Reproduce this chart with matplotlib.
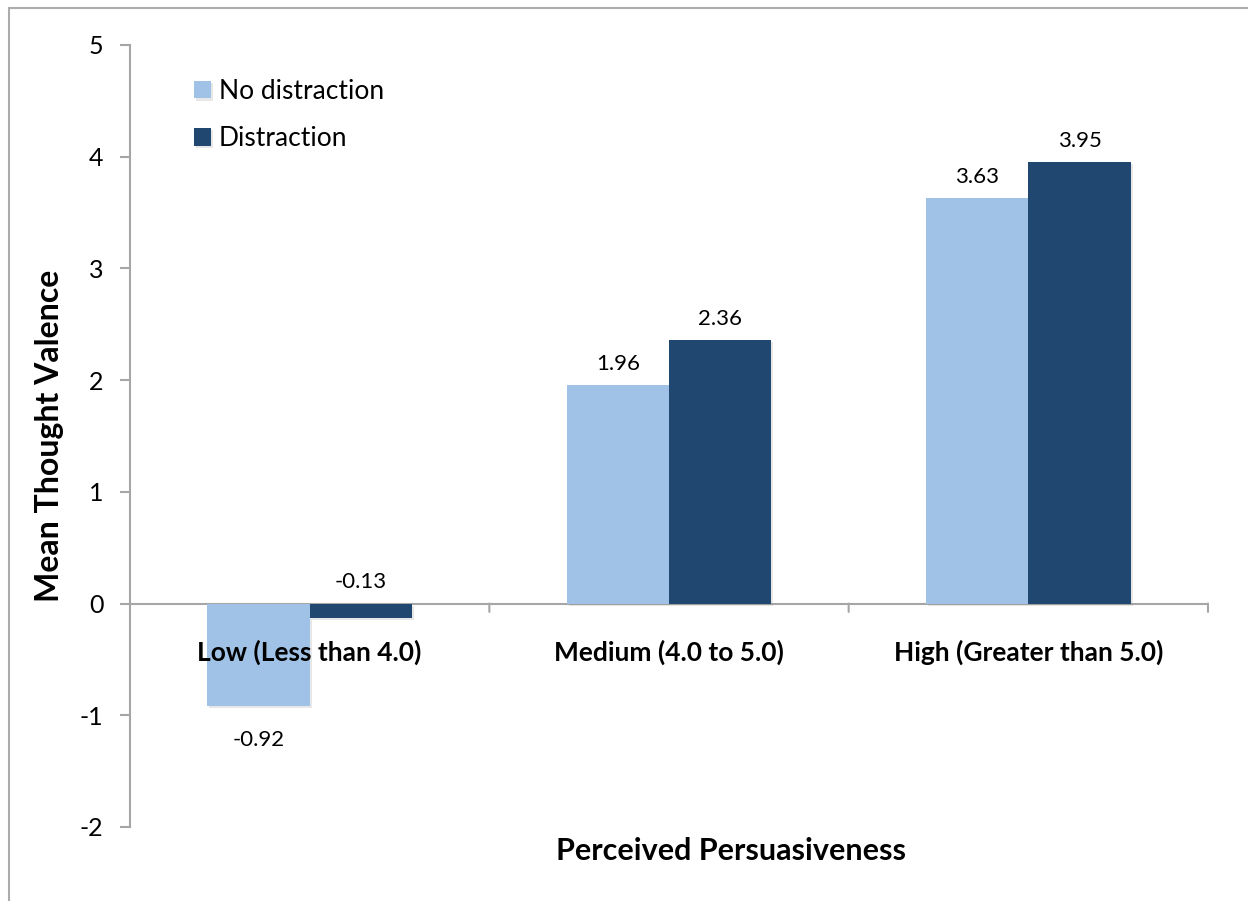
import matplotlib.pyplot as plt
import matplotlib.patheffects as pe
from matplotlib.patches import Rectangle
import numpy as np

categories = ['Low (Less than 4.0)', 'Medium (4.0 to 5.0)', 'High (Greater than 5.0)']
no_distraction = [-0.92, 1.96, 3.63]
distraction = [-0.13, 2.36, 3.95]
series_names = ['No distraction', 'Distraction']
yticks = [-2, -1, 0, 1, 2, 3, 4, 5]

light = '#A0C2E6'
dark = '#1F4770'
axis_gray = '#A6A6A6'

plt.rcParams['font.family'] = ['Lato', 'DejaVu Sans']

fig = plt.figure(figsize=(12.48, 9.01), dpi=100)
ax = fig.add_axes([130 / 1248, 1 - 827 / 901, 1078 / 1248, 782 / 901])

# outer chart frame (only left and top edges fall inside the image)
fig.patches.append(Rectangle((9 / 1248, -0.5), 2, 0.5 + (1 - 8 / 901),
                             transform=fig.transFigure, fill=False,
                             edgecolor='#ACACAC', linewidth=1.5))

x = np.arange(len(categories))
w = 0.285
shadow = [pe.SimplePatchShadow(offset=(1.5, -1.5), shadow_rgbFace='#888888', alpha=0.2), pe.Normal()]
b1 = ax.bar(x - w / 2, no_distraction, w, color=light, label=series_names[0], zorder=3)
b2 = ax.bar(x + w / 2, distraction, w, color=dark, label=series_names[1], zorder=3)
for bars in (b1, b2):
    for b in bars:
        b.set_path_effects(shadow)

# value labels
for bars, vals in ((b1, no_distraction), (b2, distraction)):
    for b, v in zip(bars, vals):
        cx = b.get_x() + b.get_width() / 2
        if v < -0.5:
            ax.annotate(f'{v:.2f}', (cx, v), xytext=(0, -17), textcoords='offset points',
                        ha='center', va='top', fontsize=16)
        elif v < 0:
            ax.annotate(f'{v:.2f}', (cx, 0), xytext=(0, 8), textcoords='offset points',
                        ha='center', va='bottom', fontsize=16)
        else:
            ax.annotate(f'{v:.2f}', (cx, v), xytext=(0, 8), textcoords='offset points',
                        ha='center', va='bottom', fontsize=16)

# category labels sit just below the zero line
for i, c in enumerate(categories):
    ax.annotate(c, (i, 0), xytext=(0, -26), textcoords='offset points',
                ha='center', va='top', fontsize=19, fontweight='bold')

ax.set_xlim(-0.5, 2.5)
ax.set_ylim(-2, 5)
ax.set_yticks(yticks)
ax.set_yticklabels([str(t) for t in yticks], fontsize=18)
ax.set_xticks([])

for s in ['top', 'right', 'bottom']:
    ax.spines[s].set_visible(False)
ax.spines['left'].set_color(axis_gray)
ax.spines['left'].set_linewidth(1.5)
ax.tick_params(axis='y', direction='out', length=7, width=1.5, color=axis_gray, pad=12)

# horizontal axis at zero with downward ticks between groups
ax.axhline(0, color=axis_gray, linewidth=1.5, zorder=2)
for t in [0.5, 1.5, 2.5]:
    ax.annotate('', (t, 0), xytext=(0, -6), textcoords='offset points',
                arrowprops=dict(arrowstyle='-', color=axis_gray, lw=1.5,
                                shrinkA=0, shrinkB=0))

fig.text(50 / 1248, 1 - 436 / 901, 'Mean Thought Valence', rotation=90, ha='center', va='center',
         fontsize=23, fontweight='bold')
fig.text(731 / 1248, 1 - 851 / 901, 'Perceived Persuasiveness', ha='center', va='center',
         fontsize=22, fontweight='bold')

ax.legend(loc='upper left', bbox_to_anchor=(0.037, 0.987), frameon=False, fontsize=19,
          handlelength=0.65, handleheight=0.65, handletextpad=0.3, labelspacing=0.85)

fig.savefig('out.png', dpi=100)
